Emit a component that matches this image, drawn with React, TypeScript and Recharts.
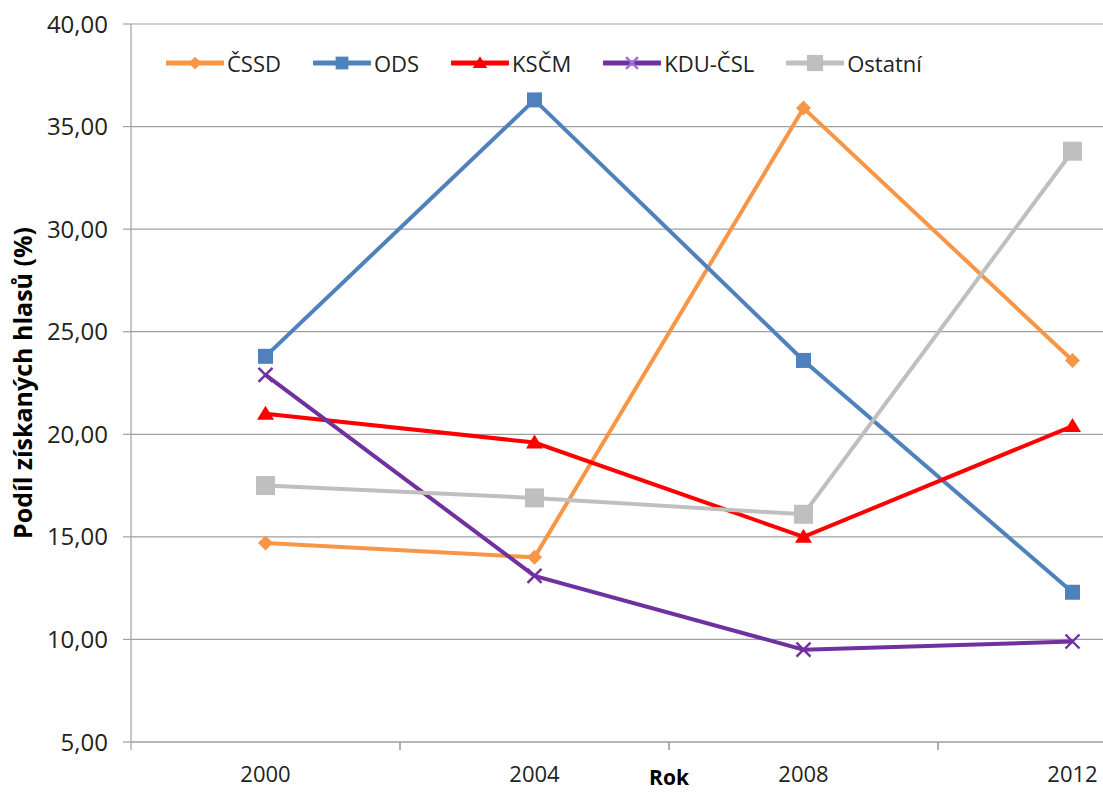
import { LineChart, Line, XAxis, YAxis, CartesianGrid, Legend } from "recharts";

const years = ["2000", "2004", "2008", "2012"];
const cssd = [14.7, 14.0, 35.9, 23.6];
const ods = [23.8, 36.3, 23.6, 12.3];
const kscm = [21.0, 19.6, 15.0, 20.4];
const kdu = [22.9, 13.1, 9.5, 9.9];
const ostatni = [17.5, 16.9, 16.1, 33.8];
const yTicks = [5, 10, 15, 20, 25, 30, 35, 40];

type Shape = "diamond" | "square" | "triangle" | "cross" | "bigsquare";

const series: { key: string; name: string; color: string; shape: Shape; values: number[] }[] = [
  { key: "cssd", name: "ČSSD", color: "#F79646", shape: "diamond", values: cssd },
  { key: "ods", name: "ODS", color: "#4F81BD", shape: "square", values: ods },
  { key: "kscm", name: "KSČM", color: "#FF0000", shape: "triangle", values: kscm },
  { key: "kdu", name: "KDU-ČSL", color: "#7030A0", shape: "cross", values: kdu },
  { key: "ostatni", name: "Ostatní", color: "#BFBFBF", shape: "bigsquare", values: ostatni },
];

const data = years.map((rok, i) => {
  const row: Record<string, string | number> = { rok };
  series.forEach((s) => (row[s.key] = s.values[i]));
  return row;
});

const FONT = "'Open Sans', sans-serif";
const GRID = "#A0A0A0";
const BAND = 269; // sirka kategorie na ose x

function marker(shape: Shape, color: string, cx: number, cy: number, scale = 1, crossColor = color) {
  switch (shape) {
    case "diamond": {
      const r = 7.5 * scale;
      return <polygon points={`${cx},${cy - r} ${cx + r},${cy} ${cx},${cy + r} ${cx - r},${cy}`} fill={color} />;
    }
    case "square": {
      const h = 7.5 * scale;
      return <rect x={cx - h} y={cy - h} width={2 * h} height={2 * h} fill={color} />;
    }
    case "bigsquare": {
      const h = 9.5 * scale;
      return <rect x={cx - h} y={cy - h} width={2 * h} height={2 * h} fill={color} />;
    }
    case "triangle": {
      const w = 8.5 * scale;
      return <polygon points={`${cx},${cy - 8 * scale} ${cx + w},${cy + 6 * scale} ${cx - w},${cy + 6 * scale}`} fill={color} />;
    }
    case "cross": {
      const h = 7 * scale;
      return (
        <g stroke={crossColor} strokeWidth={2.4}>
          <line x1={cx - h} y1={cy - h} x2={cx + h} y2={cy + h} />
          <line x1={cx - h} y1={cy + h} x2={cx + h} y2={cy - h} />
        </g>
      );
    }
  }
}

function XTick(props: any) {
  const { x, y, payload } = props;
  const axisY = y - 10;
  return (
    <g>
      <line x1={x - BAND / 2} y1={axisY} x2={x - BAND / 2} y2={axisY + 8} stroke={GRID} strokeWidth={1.2} />
      <line x1={x + BAND / 2} y1={axisY} x2={x + BAND / 2} y2={axisY + 8} stroke={GRID} strokeWidth={1.2} />
      <text x={x} y={axisY + 40} textAnchor="middle" fontSize={22} fontFamily={FONT} fill="#222">
        {payload.value}
      </text>
    </g>
  );
}

function YLabel(props: any) {
  const { viewBox } = props;
  const cy = viewBox.y + viewBox.height / 2;
  return (
    <text
      x={22}
      y={cy}
      transform={`rotate(-90, 22, ${cy})`}
      textAnchor="middle"
      dominantBaseline="central"
      fontSize={25}
      fontWeight="bold"
      fontFamily={FONT}
      fill="#000"
    >
      Podíl získaných hlasů (%)
    </text>
  );
}

function LegendContent() {
  return (
    <div style={{ display: "flex", alignItems: "center", fontFamily: FONT, fontSize: 22, color: "#222" }}>
      {series.map((s) => (
        <div key={s.key} style={{ display: "flex", alignItems: "center", marginRight: 32 }}>
          <svg width={58} height={20} style={{ marginRight: 3 }}>
            <line x1={1} y1={10} x2={57} y2={10} stroke={s.color} strokeWidth={5} strokeLinecap="round" />
            {marker(s.shape, s.color, 29, 10, 0.85, "#9B6FD0")}
          </svg>
          <span>{s.name}</span>
        </div>
      ))}
    </div>
  );
}

export default function App() {
  return (
    <div style={{ position: "fixed", left: 0, top: 0, width: 1103, height: 793, overflow: "hidden", background: "#fff" }}>
      <LineChart width={1215} height={793} data={data} margin={{ top: 24, right: 8, bottom: 0, left: 0 }}>
        <CartesianGrid vertical={false} stroke={GRID} strokeWidth={1.2} />
        <XAxis
          dataKey="rok"
          height={51}
          padding={{ left: BAND / 2, right: BAND / 2 }}
          tickLine={false}
          tickSize={8}
          tickMargin={2}
          axisLine={{ stroke: GRID, strokeWidth: 1.2 }}
          tick={<XTick />}
          interval={0}
          label={{ value: "Rok", position: "insideBottom", offset: 8, fontSize: 21, fontWeight: "bold", fontFamily: FONT, fill: "#000" }}
        />
        <YAxis
          width={131}
          domain={[5, 40]}
          ticks={yTicks}
          interval={0}
          tickSize={8}
          tickMargin={15}
          tickLine={{ stroke: GRID, strokeWidth: 1.2 }}
          axisLine={{ stroke: GRID, strokeWidth: 1.2 }}
          tick={{ fontSize: 24, fontFamily: FONT, fill: "#222" }}
          tickFormatter={(v: number) => v.toFixed(2).replace(".", ",")}
          label={<YLabel />}
        />
        <Legend
          layout="horizontal"
          verticalAlign="middle"
          align="center"
          content={<LegendContent />}
          wrapperStyle={{ left: 166, top: 48, width: "auto", height: "auto" }}
        />
        {series.map((s) => (
          <Line
            key={s.key}
            dataKey={s.key}
            name={s.name}
            stroke={s.color}
            strokeWidth={4}
            isAnimationActive={false}
            dot={(p: any) => <g key={`${s.key}-${p.index}`}>{marker(s.shape, s.color, p.cx, p.cy)}</g>}
            activeDot={false}
          />
        ))}
      </LineChart>
    </div>
  );
}
